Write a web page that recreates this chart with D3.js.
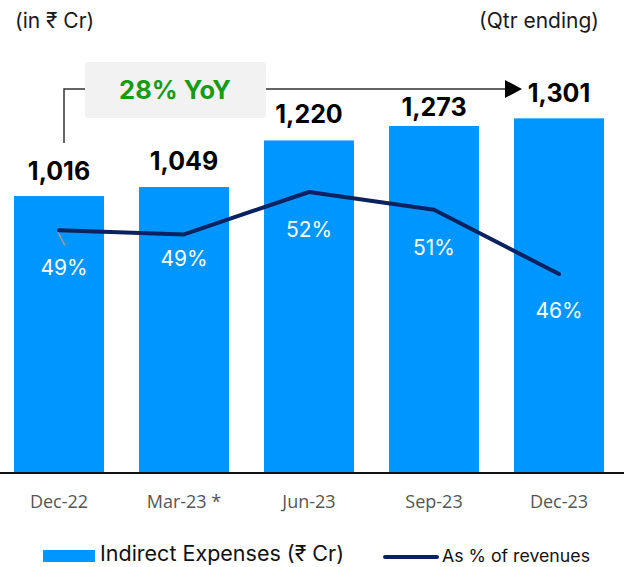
<!DOCTYPE html>
<html>
<head>
<meta charset="utf-8">
<script src="https://cdn.jsdelivr.net/npm/d3@7"></script>
<style>
  body { margin: 0; background: #fff; }
  svg { display: block; font-family: Inter, "Noto Sans", sans-serif; }
</style>
</head>
<body>
<svg width="624" height="567"></svg>
<script>
// ==================== DATA ====================
var quarters = ["Dec-22", "Mar-23 *", "Jun-23", "Sep-23", "Dec-23"];
var expenses = [1016, 1049, 1220, 1273, 1301];          // Indirect Expenses (₹ Cr)
var pctRevenue = [49.2, 48.9, 52.0, 50.7, 46.0];         // As % of revenues
var pctLabels = ["49%", "49%", "52%", "51%", "46%"];
var yoyLabel = "28% YoY";

// small label nudges (layout only)
var valueLabelGap = [16, 17, 17, 10, 16];
var pctLabelGap = [45, 32, 45, 45, 44];

var svg = d3.select("svg"),
    width = +svg.attr("width"),
    height = +svg.attr("height"),
    baseY = 473;

var x = d3.scaleBand()
    .domain(quarters)
    .range([-3, 621])
    .paddingInner(0.28)
    .paddingOuter(0.136);

var y = d3.scaleLinear()
    .domain([0, 1400])
    .range([baseY, baseY - 0.2726 * 1400]);

var yPct = d3.scaleLinear()
    .domain([40, 55])
    .range([192 + 12 * 13.67, 192 - 3 * 13.67]);

var cx = function(d) { return x(d) + x.bandwidth() / 2; };

/* ==================== HEADER ==================== */
svg.append("text")
    .attr("x", 15).attr("y", 28)
    .attr("font-size", 21).attr("fill", "#1a1a1a")
    .text("(in ₹ Cr)");

svg.append("text")
    .attr("x", 599).attr("y", 28)
    .attr("text-anchor", "end")
    .attr("font-size", 21).attr("fill", "#1a1a1a")
    .text("(Qtr ending)");

/* ==================== BARS ==================== */
svg.append("g").selectAll("rect")
    .data(quarters)
    .enter().append("rect")
    .attr("x", function(d) { return x(d); })
    .attr("y", function(d, i) { return y(expenses[i]); })
    .attr("width", x.bandwidth())
    .attr("height", function(d, i) { return baseY - y(expenses[i]); })
    .attr("fill", "#0096ff");

svg.append("g").selectAll("text")
    .data(quarters)
    .enter().append("text")
    .attr("x", cx)
    .attr("y", function(d, i) { return y(expenses[i]) - valueLabelGap[i]; })
    .attr("text-anchor", "middle")
    .attr("font-size", 25).attr("font-weight", 700).attr("fill", "#000")
    .text(function(d, i) { return d3.format(",")(expenses[i]); });

/* ==================== X AXIS ==================== */
svg.append("line")
    .attr("x1", 0).attr("x2", width)
    .attr("y1", baseY).attr("y2", baseY)
    .attr("stroke", "#111").attr("stroke-width", 2);

svg.append("g").selectAll("text")
    .data(quarters)
    .enter().append("text")
    .attr("x", cx)
    .attr("y", 508)
    .attr("text-anchor", "middle")
    .attr("font-family", "'Open Sans', sans-serif")
    .attr("font-size", 18).attr("fill", "#555")
    .text(function(d) { return d; });

/* ==================== LINE ==================== */
var line = d3.line()
    .x(function(d, i) { return cx(quarters[i]); })
    .y(function(d) { return yPct(d); });

// leader line on first point
svg.append("line")
    .attr("x1", cx(quarters[0]) - 1).attr("y1", yPct(pctRevenue[0]) + 2)
    .attr("x2", cx(quarters[0]) + 6).attr("y2", yPct(pctRevenue[0]) + 15)
    .attr("stroke", "#9a9a9a").attr("stroke-width", 1.5);

svg.append("path")
    .datum(pctRevenue)
    .attr("d", line)
    .attr("fill", "none")
    .attr("stroke", "#0a2260")
    .attr("stroke-width", 4)
    .attr("stroke-linecap", "round")
    .attr("stroke-linejoin", "round");

svg.append("g").selectAll("text")
    .data(pctLabels)
    .enter().append("text")
    .attr("x", function(d, i) { return cx(quarters[i]) + (i === 0 ? 5 : 0); })
    .attr("y", function(d, i) { return yPct(pctRevenue[i]) + pctLabelGap[i]; })
    .attr("text-anchor", "middle")
    .attr("font-size", 21).attr("fill", "#fff")
    .text(function(d) { return d; });

/* ==================== YoY ANNOTATION ==================== */
var annY = 89,
    x0 = cx(quarters[0]) + 5,
    x1 = cx(quarters[4]) - 52;

svg.append("path")
    .attr("d", "M" + x0 + ",143 V" + annY + " H" + x1)
    .attr("fill", "none")
    .attr("stroke", "#333").attr("stroke-width", 1.5);

svg.append("path")
    .attr("d", "M" + (x1 - 2) + "," + (annY - 9) + " L" + (x1 + 15) + "," + annY + " L" + (x1 - 2) + "," + (annY + 9) + " Z")
    .attr("fill", "#000");

svg.append("rect")
    .attr("x", 85).attr("y", 62)
    .attr("width", 181).attr("height", 56)
    .attr("rx", 4)
    .attr("fill", "#f2f2f2");

svg.append("text")
    .attr("x", 175).attr("y", 99)
    .attr("text-anchor", "middle")
    .attr("font-size", 25.5).attr("font-weight", 700).attr("fill", "#169b16")
    .text(yoyLabel);

/* ==================== LEGEND ==================== */
svg.append("rect")
    .attr("x", 43).attr("y", 550)
    .attr("width", 52).attr("height", 12)
    .attr("fill", "#0096ff");

svg.append("text")
    .attr("x", 100).attr("y", 561)
    .attr("font-size", 21).attr("fill", "#111")
    .attr("textLength", 244)
    .attr("lengthAdjust", "spacingAndGlyphs")
    .text("Indirect Expenses (₹ Cr)");

svg.append("line")
    .attr("x1", 385).attr("x2", 437)
    .attr("y1", 557).attr("y2", 557)
    .attr("stroke", "#0a2260").attr("stroke-width", 4)
    .attr("stroke-linecap", "round");

svg.append("text")
    .attr("x", 442).attr("y", 562)
    .attr("font-size", 17).attr("fill", "#111")
    .attr("textLength", 148)
    .attr("lengthAdjust", "spacingAndGlyphs")
    .text("As % of revenues");
</script>
</body>
</html>
